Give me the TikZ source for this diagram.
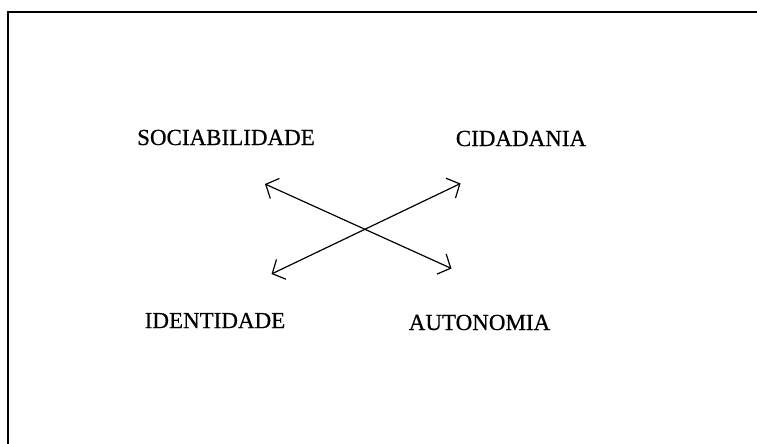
\documentclass[tikz,border=0pt]{standalone}
\usepackage{fontspec}
\setmainfont{Liberation Serif}
\newfontfamily\termfont{Liberation Serif}[FakeBold=0.6]
\usepackage{tikz}
\usetikzlibrary{
  	arrows.meta,
  	positioning,
  	calc
  }
\tikzstyle{term}=[inner sep=0pt, font=\termfont\fontsize{23}{27}\selectfont]
\tikzstyle{link}=[line width=1.2pt, {Straight Barb[length=10pt,width=22pt]}-{Straight Barb[length=10pt,width=22pt]}]

\begin{document}
\begin{tikzpicture}[x=1pt, y=-1pt]
  	\useasboundingbox (0,0) rectangle (757,444);
  	\draw[line width=1.3pt] (8,444) -- (8,12) -- (757,12);
  	\node[term] (soc) at (226,137.5) {SOCIABILIDADE};
  	\node[term] (cid) at (521,138.5) {CIDADANIA};
  	\node[term] (ide) at (215,320.5) {IDENTIDADE};
  	\node[term] (aut) at (479.5,322.5) {AUTONOMIA};
		\coordinate (soc-end) at (265,184);
		\coordinate (aut-end) at (451.5,268.5);
		\coordinate (cid-end) at (460.5,183.5);
		\coordinate (ide-end) at (271.5,274);
  	\draw[link] (soc-end) -- (aut-end);
  	\draw[link] (ide-end) -- (cid-end);
  \end{tikzpicture}
\end{document}
